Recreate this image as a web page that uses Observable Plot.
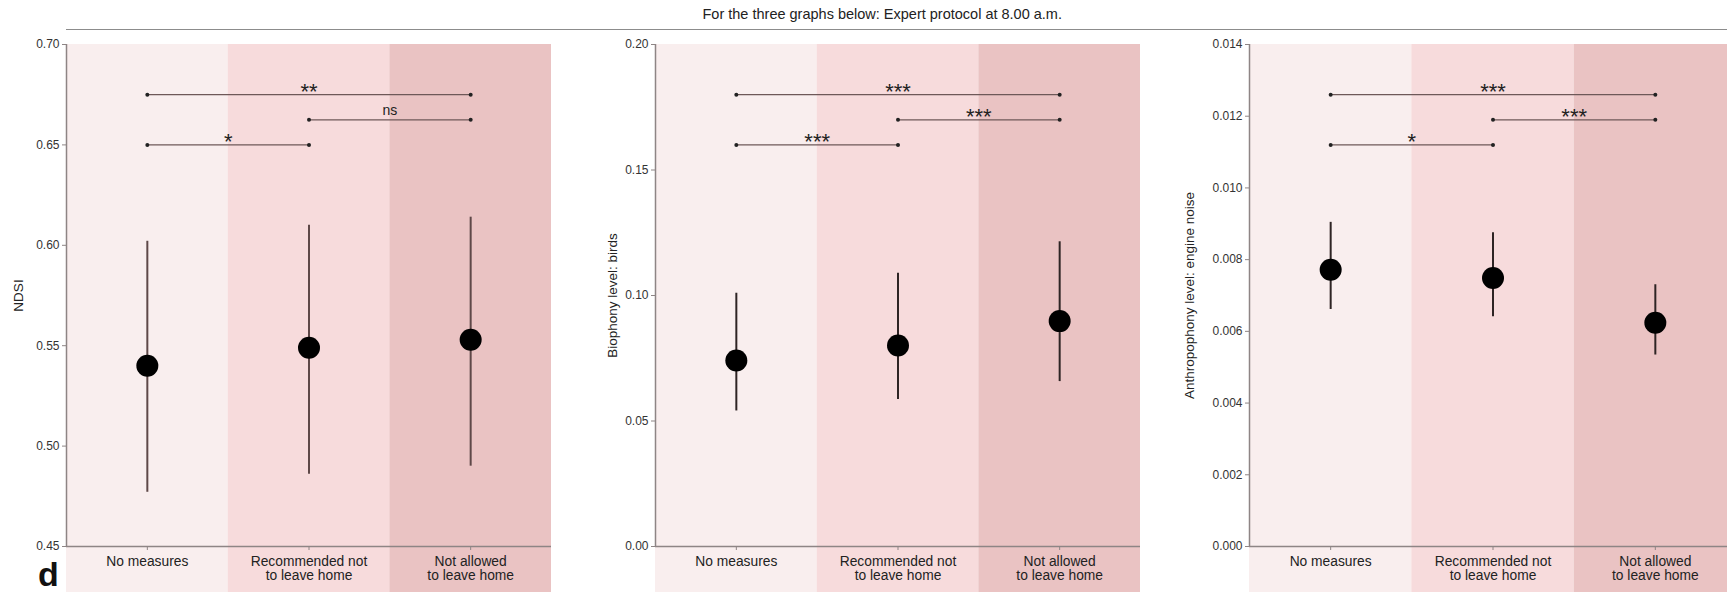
<!DOCTYPE html>
<html>
<head>
<meta charset="utf-8">
<script src="https://cdn.jsdelivr.net/npm/d3@7"></script>
<script src="https://cdn.jsdelivr.net/npm/@observablehq/plot@0.6"></script>
<style>
  html, body { margin: 0; padding: 0; background: #fff; }
  #wrap { position: relative; width: 1727px; height: 592px; overflow: hidden; background: #fff; }
  .abs { position: absolute; }
  #title { font-family: "Liberation Sans Narrow", "Arial Narrow", "Liberation Sans", Arial, sans-serif; font-size: 14.5px; color: #222; white-space: nowrap; }
  #rule { border-top: 1.5px solid #8c8c8c; }
  #tag { font-family: "Liberation Sans", Arial, sans-serif; font-weight: bold; font-size: 34px; line-height: 34px; color: #111; }
</style>
</head>
<body>
<div id="wrap">
  <div id="title" class="abs">For the three graphs below: Expert protocol at 8.00 a.m.</div>
  <div id="rule" class="abs"></div>
  <div id="tag" class="abs">d</div>
</div>
<script>
// ---------- data ----------
const categories = ["No measures", "Recommended not\nto leave home", "Not allowed\nto leave home"];

const ndsiMean = [0.540, 0.549, 0.553];
const ndsiLow  = [0.477, 0.486, 0.490];
const ndsiHigh = [0.602, 0.610, 0.614];

const birdsMean = [0.0741, 0.0801, 0.0898];
const birdsLow  = [0.0540, 0.0586, 0.0657];
const birdsHigh = [0.1009, 0.1089, 0.1214];

const engineMean = [0.00772, 0.00749, 0.00624];
const engineLow  = [0.00661, 0.00641, 0.00534];
const engineHigh = [0.00904, 0.00875, 0.00730];

const pairs = [[0, 2], [1, 2], [0, 1]];
const ndsiBracketY   = [0.675, 0.6625, 0.65];
const ndsiBracketTxt = ["**", "ns", "*"];
const birdsBracketY   = [0.18, 0.17, 0.16];
const birdsBracketTxt = ["***", "***", "***"];
const engineBracketY   = [0.0126, 0.0119, 0.0112];
const engineBracketTxt = ["***", "***", "*"];

const ndsiTicks   = [0.45, 0.50, 0.55, 0.60, 0.65, 0.70];
const birdsTicks  = [0.00, 0.05, 0.10, 0.15, 0.20];
const engineTicks = [0.000, 0.002, 0.004, 0.006, 0.008, 0.010, 0.012, 0.014];

// ---------- style ----------
const FONT = '"Liberation Sans Narrow", "Arial Narrow", "Liberation Sans", Arial, sans-serif';
const bandColors = ["#f9eeee", "#f7dbdc", "#eac3c3"];
const axisGray = "#8e8585";
const H = 592, MT = 44, MB = 46;

function panel(o) {
  const idx = d3.range(categories.length);
  const bIdx = d3.range(pairs.length);
  const mid = j => (pairs[j][0] + pairs[j][1]) / 2 + 0.5;
  const isStar = j => o.bTxt[j] !== "ns";
  return Plot.plot({
    width: o.width, height: H,
    marginTop: MT, marginBottom: MB, marginLeft: o.marginLeft, marginRight: o.marginRight,
    style: {fontFamily: FONT, fontSize: "13px", color: "#333", background: "transparent", overflow: "visible", maxWidth: "none"},
    x: {domain: [0, categories.length], axis: null},
    y: {domain: o.yDomain, axis: null},
    color: {type: "identity"},
    marks: [
      Plot.rect(idx, {x1: i => i, x2: i => i + 1, fill: i => bandColors[i], insetBottom: -MB}),
      Plot.ruleX([0], {stroke: axisGray, strokeWidth: 1.5}),
      Plot.ruleY([o.yDomain[0]], {stroke: axisGray, strokeWidth: 1.5}),
      Plot.axisY({
        ticks: o.ticks, tickFormat: o.fmt, tickSize: 4, tickPadding: 3, stroke: axisGray,
        fontSize: 12, fill: "#333", label: null
      }),
      Plot.axisY({
        ticks: [], tickSize: 0, fontSize: 13.5, fill: "#222",
        label: o.label, labelAnchor: "center", labelOffset: o.labelOffset, labelArrow: "none"
      }),
      Plot.axisX({
        ticks: idx.map(i => i + 0.5), tickFormat: t => categories[Math.floor(t)],
        tickSize: 4, tickPadding: 6, stroke: axisGray, fontSize: 13.8, fill: "#222", label: null
      }),
      Plot.ruleX(idx, {x: i => i + 0.5, y1: i => o.low[i], y2: i => o.high[i], stroke: o.errColor, strokeWidth: 2}),
      Plot.dot(idx, {x: i => i + 0.5, y: i => o.mean[i], r: 11, fill: "#000", stroke: "none"}),
      Plot.ruleY(bIdx, {x1: j => pairs[j][0] + 0.5, x2: j => pairs[j][1] + 0.5, y: j => o.bY[j], stroke: "#6e5858", strokeWidth: 1.3}),
      Plot.dot(bIdx, {x: j => pairs[j][0] + 0.5, y: j => o.bY[j], r: 2, fill: "#222", stroke: "none"}),
      Plot.dot(bIdx, {x: j => pairs[j][1] + 0.5, y: j => o.bY[j], r: 2, fill: "#222", stroke: "none"}),
      Plot.text(bIdx.filter(isStar), {x: mid, y: j => o.bY[j], text: j => o.bTxt[j], fontSize: 22, lineAnchor: "bottom", dy: 4, fill: "#222", fontFamily: '"Liberation Sans", Arial, sans-serif'}),
      Plot.text(bIdx.filter(j => !isStar(j)), {x: mid, y: j => o.bY[j], text: j => o.bTxt[j], fontSize: 14, lineAnchor: "bottom", dy: -5, fill: "#222"})
    ]
  });
}

const wrap = document.getElementById("wrap");
function place(svg, left) {
  svg.style.position = "absolute";
  svg.style.left = left + "px";
  svg.style.top = "0px";
  wrap.appendChild(svg);
}

place(panel({
  width: 560, marginLeft: 66, marginRight: 9, yDomain: [0.45, 0.70], ticks: ndsiTicks, fmt: d3.format(".2f"),
  label: "NDSI", labelOffset: 53, mean: ndsiMean, low: ndsiLow, high: ndsiHigh,
  bY: ndsiBracketY, bTxt: ndsiBracketTxt, errColor: "#5e4848"
}), 0);

place(panel({
  width: 580, marginLeft: 85, marginRight: 10, yDomain: [0, 0.20], ticks: birdsTicks, fmt: d3.format(".2f"),
  label: "Biophony level: birds", labelOffset: 48, mean: birdsMean, low: birdsLow, high: birdsHigh,
  bY: birdsBracketY, bTxt: birdsBracketTxt, errColor: "#2e2424"
}), 570);

place(panel({
  width: 586, marginLeft: 99, marginRight: 0, yDomain: [0, 0.014], ticks: engineTicks, fmt: d3.format(".3f"),
  label: "Anthropophony level: engine noise", labelOffset: 65, mean: engineMean, low: engineLow, high: engineHigh,
  bY: engineBracketY, bTxt: engineBracketTxt, errColor: "#2e2424"
}), 1150);

// title, header rule, panel tag (HTML, not data)
const title = document.getElementById("title");
title.style.left = (882 - title.offsetWidth / 2) + "px";
title.style.top = "6px";
const rule = document.getElementById("rule");
rule.style.left = "66px"; rule.style.top = "29px"; rule.style.width = "1661px";
const tag = document.getElementById("tag");
tag.style.left = "38px"; tag.style.top = "557px";
</script>
</body>
</html>
